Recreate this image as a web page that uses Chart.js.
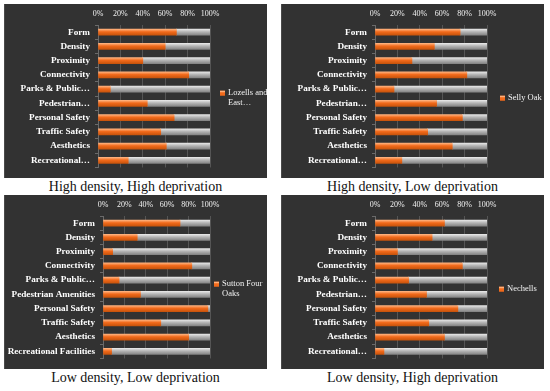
<!DOCTYPE html>
<html>
<head>
<meta charset="utf-8">
<script src="https://cdn.jsdelivr.net/npm/chart.js@4.4.1/dist/chart.umd.min.js"></script>
<style>
body { margin: 0; background: #fff; width: 550px; height: 391px; position: relative; overflow: hidden; }
.panel { position: absolute; width: 263px; height: 174px; background: #323232; box-shadow: inset 1px 0 0 #4a4a4a; }
.cap { position: absolute; width: 263px; text-align: center; font: 14px "Liberation Serif", serif; color: #111; }
</style>
</head>
<body>
<div class="panel" style="left:4px;top:4px"><canvas id="c1"></canvas></div>
<div class="panel" style="left:281px;top:4px"><canvas id="c2"></canvas></div>
<div class="panel" style="left:4px;top:195px"><canvas id="c3"></canvas></div>
<div class="panel" style="left:281px;top:195px"><canvas id="c4"></canvas></div>
<div class="cap" style="left:4px;top:179px">High density, High deprivation</div>
<div class="cap" style="left:281px;top:179px">High density, Low deprivation</div>
<div class="cap" style="left:4px;top:370px">Low density, Low deprivation</div>
<div class="cap" style="left:281px;top:370px">Low density, High deprivation</div>
<script>
// categories (short = as truncated on the axis)
const labelsShort = ["Form","Density","Proximity","Connectivity","Parks & Public…","Pedestrian…","Personal Safety","Traffic Safety","Aesthetics","Recreational…"];
const labelsLong = ["Form","Density","Proximity","Connectivity","Parks & Public…","Pedestrian Amenities","Personal Safety","Traffic Safety","Aesthetics","Recreational Facilities"];
const ticks = ["0%","20%","40%","60%","80%","100%"];

// orange share and grey remainder, per area (percent)
const lozells      = [70, 60, 40, 81, 11, 44, 68, 56, 61, 27];
const lozellsRest  = [30, 40, 60, 19, 89, 56, 32, 44, 39, 73];
const selly        = [76, 53, 33, 82, 17, 55, 78, 47, 69, 24];
const sellyRest    = [24, 47, 67, 18, 83, 45, 22, 53, 31, 76];
const sutton       = [72, 32,  9, 83, 15, 35, 98, 54, 80,  8];
const suttonRest   = [28, 68, 91, 17, 85, 65,  2, 46, 20, 92];
const nechells     = [62, 51, 20, 78, 30, 46, 74, 48, 62,  8];
const nechellsRest = [38, 49, 80, 22, 70, 54, 26, 52, 38, 92];

const SERIF = "Liberation Serif, Times New Roman, serif";

function barFill(top, mid, bot) {
  return (ctx) => {
    const c = ctx.chart;
    const y = c.scales.y;
    if (!y || ctx.dataIndex === undefined) return mid;
    const py = y.getPixelForValue(ctx.dataIndex);
    if (!isFinite(py)) return mid;
    const g = c.ctx.createLinearGradient(0, py - 3, 0, py + 3);
    g.addColorStop(0, top);
    g.addColorStop(0.45, mid);
    g.addColorStop(1, bot);
    return g;
  };
}

const legendPlugin = {
  id: "sideLegend",
  afterDraw(chart, args, opts) {
    const ctx = chart.ctx;
    const a = chart.chartArea;
    const lines = opts.lines;
    const lh = 10;
    const cy = (a.top + a.bottom) / 2 + 2;
    const y0 = cy - (lines.length - 1) * lh / 2;
    const x = a.right + opts.dx;
    ctx.save();
    ctx.fillStyle = "#f26a1b";
    ctx.fillRect(x, y0 - 2.5, 5, 5);
    ctx.fillStyle = "#ffb07a";
    ctx.fillRect(x, y0 - 2.5, 5, 1.5);
    ctx.font = "8.5px " + SERIF;
    ctx.fillStyle = "#f2f2f2";
    ctx.textBaseline = "middle";
    lines.forEach((t, i) => ctx.fillText(t, x + 8, y0 + i * lh));
    ctx.restore();
  }
};

function makeChart(id, labels, values, rest, name, legendLines, axisW, legendDx) {
  new Chart(document.getElementById(id), {
    type: "bar",
    data: {
      labels: labels,
      datasets: [
        { label: name, data: values, backgroundColor: barFill("#ffb27e", "#f26a1b", "#c9540c"), barThickness: 6 },
        { label: "Other", data: rest, backgroundColor: barFill("#e6e6e6", "#b4b4b4", "#858585"), barThickness: 6 }
      ]
    },
    options: {
      indexAxis: "y",
      responsive: false,
      animation: false,
      layout: { padding: { left: 0, right: 57, top: 0, bottom: 10 } },
      plugins: {
        legend: { display: false },
        tooltip: { enabled: false },
        sideLegend: { lines: legendLines, dx: legendDx }
      },
      scales: {
        x: {
          position: "top",
          stacked: true,
          min: 0,
          max: 100,
          afterFit: (s) => { s.height = 21; },
          ticks: {
            stepSize: 20,
            padding: 6,
            maxRotation: 0,
            minRotation: 0,
            autoSkip: false,
            color: "#f2f2f2",
            font: { family: SERIF, size: 8 },
            callback: (v, i) => ticks[i]
          },
          grid: { color: "#555555", drawTicks: false },
          border: { display: false }
        },
        y: {
          stacked: true,
          afterFit: (s) => { s.width = axisW; },
          ticks: {
            padding: 5,
            autoSkip: false,
            color: "#ffffff",
            font: { family: SERIF, size: 9.2, weight: "bold" }
          },
          grid: { drawOnChartArea: false, color: "#6a6a6a", tickLength: 3 },
          border: { color: "#6a6a6a" }
        }
      }
    },
    plugins: [legendPlugin]
  });
}

["c1", "c2", "c3", "c4"].forEach((id) => {
  const cv = document.getElementById(id);
  cv.width = 263; cv.height = 174;
});

makeChart("c1", labelsShort, lozells, lozellsRest, "Lozells and East…", ["Lozells and", "East…"], 94, 10);
makeChart("c2", labelsShort, selly, sellyRest, "Selly Oak", ["Selly Oak"], 94, 13);
makeChart("c3", labelsLong, sutton, suttonRest, "Sutton Four Oaks", ["Sutton Four", "Oaks"], 99, 4);
makeChart("c4", labelsShort, nechells, nechellsRest, "Nechells", ["Nechells"], 94, 12);
</script>
</body>
</html>
